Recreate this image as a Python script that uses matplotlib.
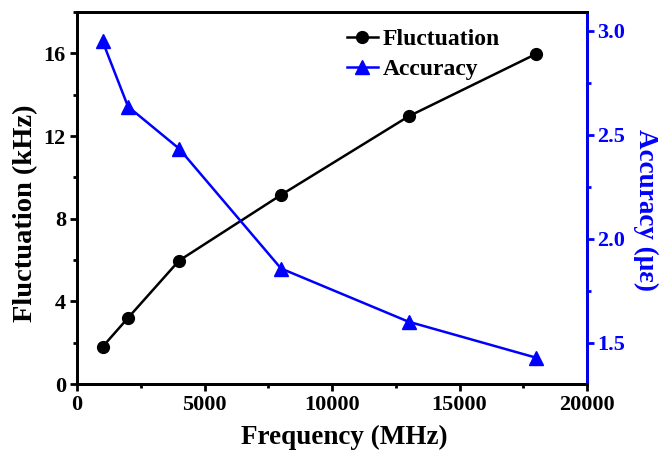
import matplotlib
matplotlib.use("Agg")
import matplotlib.pyplot as plt
from matplotlib.ticker import MultipleLocator

freq = [1000, 2000, 4000, 8000, 13000, 18000]
fluctuation = [1.80, 3.20, 5.97, 9.15, 12.95, 15.97]
accuracy = [2.95, 2.635, 2.433, 1.856, 1.60, 1.427]

plt.rcParams['font.family'] = ['Liberation Serif', 'DejaVu Serif']
plt.rcParams['font.weight'] = 'bold'

fig = plt.figure(figsize=(6.65, 4.54), dpi=100)
ax = fig.add_axes([0.1158, 0.154, 0.767, 0.8196])
ax2 = ax.twinx()

l1, = ax.plot(freq, fluctuation, color='black', marker='o', markersize=8.5, lw=1.8, label='Fluctuation')
l2, = ax2.plot(freq, accuracy, color='blue', marker='^', markersize=9.5, lw=1.8, label='Accuracy')

ax.set_xlim(0, 20000)
ax.set_ylim(0, 18)
ax2.set_ylim(1.3, 3.09)

ax.xaxis.set_major_locator(MultipleLocator(5000))
ax.xaxis.set_minor_locator(MultipleLocator(2500))
ax.yaxis.set_major_locator(MultipleLocator(4))
ax.yaxis.set_minor_locator(MultipleLocator(2))
ax2.yaxis.set_major_locator(MultipleLocator(0.5))
ax2.yaxis.set_minor_locator(MultipleLocator(0.25))

for a in (ax, ax2):
    for s in a.spines.values():
        s.set_linewidth(2)
ax2.spines['right'].set_color('blue')

ax.tick_params(axis='both', which='major', direction='out', length=5, width=2, labelsize=16, pad=3)
ax.tick_params(axis='both', which='minor', direction='out', length=3, width=2)
ax.tick_params(top=False, which='both')
ax2.tick_params(axis='y', which='major', direction='out', length=5, width=2, labelsize=16, colors='blue', pad=2)
ax2.tick_params(axis='y', which='minor', direction='out', length=3, width=2, colors='blue')

for lab in ax.get_xticklabels() + ax.get_yticklabels() + ax2.get_yticklabels():
    lab.set_fontweight('bold')

ax.set_xlabel('Frequency (MHz)', fontsize=19.5, fontweight='bold', labelpad=7)
ax.set_ylabel('Fluctuation (kHz)', fontsize=20.5, fontweight='bold', labelpad=4)
ax2.set_ylabel('Accuracy (με)', fontsize=19.5, fontweight='bold', color='blue', rotation=270, labelpad=24)
ax.xaxis.label.set_x(0.524)
ax.yaxis.label.set_y(0.46)
ax2.yaxis.label.set_y(0.468)

leg = ax.legend(handles=[l1, l2], loc='upper left', bbox_to_anchor=(0.497, 1.0), frameon=False,
                prop={'size': 17, 'weight': 'bold'}, handlelength=1.3, handletextpad=0.2,
                labelspacing=0.35, borderaxespad=0.3)

fig.savefig('out.png', dpi=100)
